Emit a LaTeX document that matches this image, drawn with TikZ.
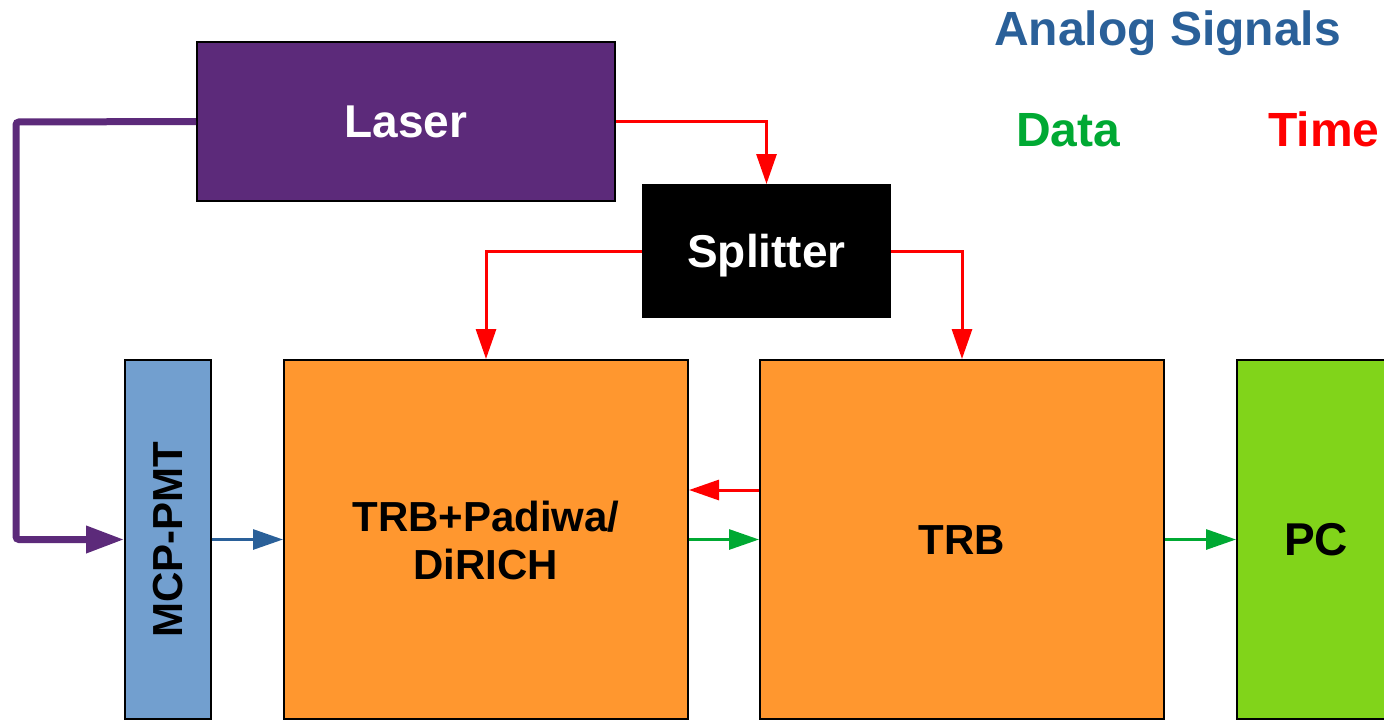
\documentclass[tikz,border=0pt]{standalone}
\usepackage{fontspec}
\setmainfont{Liberation Sans}
\usepackage{graphicx}
\usetikzlibrary{arrows.meta}
\definecolor{laserc}{HTML}{5C2A7A}
\definecolor{mcpc}{HTML}{729FCF}
\definecolor{trbc}{HTML}{FF972F}
\definecolor{pcc}{HTML}{81D41A}
\definecolor{analogc}{HTML}{2A6099}
\definecolor{datac}{HTML}{00A933}
\definecolor{timec}{HTML}{FF0000}
\begin{document}
\begin{tikzpicture}[x=1pt,y=-1pt,
  box/.style={draw=black,line width=2pt,inner sep=0pt,text depth=0pt},
  big/.style={font=\fontsize{46}{46}\selectfont\bfseries,text height=32.9pt},
  mid/.style={font=\fontsize{42}{48}\selectfont\bfseries,text height=30.1pt},
  legend/.style={inner sep=0pt,anchor=base west,font=\fontsize{48}{48}\selectfont\bfseries},
  sig/.style={line width=3pt,-{Triangle[length=30pt,width=20pt]}},
  timeline/.style={sig,draw=timec},
  dataline/.style={sig,draw=datac},
  analogline/.style={sig,draw=analogc},
  laserline/.style={line width=7pt,draw=laserc,rounded corners=3pt,-{Triangle[length=38pt,width=26pt]}}
]
\useasboundingbox (0,0) rectangle (1384,720);
\clip (0,0) rectangle (1384,720);

% legend
\node[legend,text=analogc] (lgA) at (994,45) {Analog Signals};
\node[legend,text=datac] (lgD) at (1016,146) {Data};
\node[legend,text=timec] (lgT) at (1268,146) {Time};

% boxes
\node[box,big,fill=laserc,text=white,minimum width=418pt,minimum height=159pt] (laser) at (406,121.5) {Laser};
\node[box,big,fill=black,text=white,minimum width=247pt,minimum height=132pt] (split) at (766.5,251) {Splitter};
\node[box,fill=mcpc,minimum width=86pt,minimum height=359pt,font=\fontsize{42}{42}\selectfont\bfseries] (mcp) at (168,539.5) {\rotatebox{90}{MCP-PMT}};
\node[box,mid,fill=trbc,align=center,minimum width=404pt,minimum height=359pt,text height=80pt,text depth=0pt] (trbp) at (486,539.5) {TRB+Padiwa/\\DiRICH};
\node[box,mid,fill=trbc,minimum width=404pt,minimum height=359pt] (trb) at (962,539.5) {TRB};
\node[box,big,fill=pcc,minimum width=158pt,minimum height=359pt] (pc) at (1316,539.5) {PC};

% connectors
\coordinate (c1) at (16,122);
\coordinate (c2) at (16,539.5);
\draw[laserline] (laser.west) -- (c1) -- (c2) -- (mcp.west);
\draw[timeline] (laser.east) -| (split.north);
\draw[timeline] (split.west) -| (trbp.north);
\draw[timeline] (split.east) -| (trb.north);
\draw[timeline] (trb.west |- 0,490) -- (trbp.east |- 0,490);
\draw[dataline] (trbp.east) -- (trb.west);
\draw[analogline] (mcp.east) -- (trbp.west);
\draw[dataline] (trb.east) -- (pc.west);
\end{tikzpicture}
\end{document}
